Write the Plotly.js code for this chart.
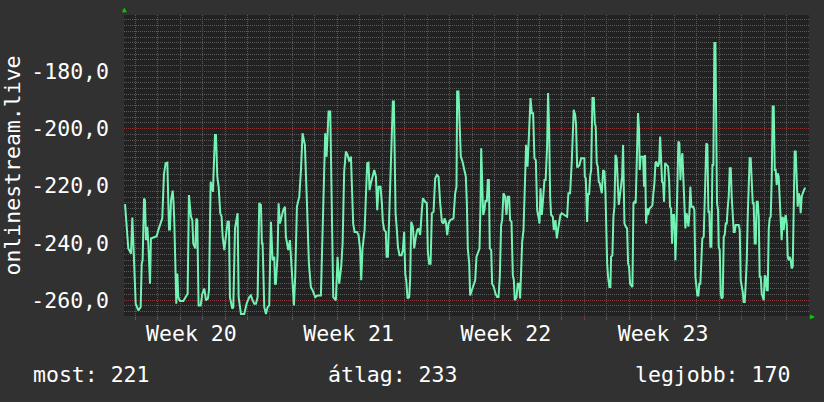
<!DOCTYPE html>
<html>
<head>
<meta charset="utf-8">
<script src="https://cdn.plot.ly/plotly-3.0.1.min.js"></script>
<style>
  html, body { margin: 0; padding: 0; background: #313131; }
  #chart { width: 824px; height: 402px; }
</style>
</head>
<body>
<div id="chart"></div>
<script>
// Series start: Monday of ISO week 20 (2013-05-13) at 12:00
const startTime = '2013-05-13T12:00:00Z';
const endTime = '2013-06-13T00:00:00Z';

// hours since startTime
const hours = [
1.1,4.6,7.5,8.9,10.0,12.5,15.3,17.8,18.9,19.9,21.4,22.4,23.5,24.9,26.0,27.1,27.8,28.8,34.9,36.7,
38.4,40.9,42.7,44.5,46.3,47.3,48.1,49.1,50.2,52.0,53.0,53.8,55.2,55.9,57.0,58.0,59.8,63.4,65.9,68.0,
69.4,71.6,73.0,74.0,76.2,77.3,78.3,79.0,79.7,81.9,83.7,85.8,87.6,89.7,90.8,92.6,95.1,95.4,97.2,98.3,
99.7,101.1,102.9,104.3,105.4,107.2,108.9,110.7,112.1,113.2,115.7,116.8,118.6,121.4,
122.5,125.0,128.5,131.0,133.9,135.6,137.4,139.2,141.0,142.8,144.5,146.3,147.4,148.1,149.9,151.7,153.5,155.2,
157.0,158.8,160.6,161.3,162.3,163.4,164.1,165.2,166.6,170.2,172.0,173.0,175.5,177.3,178.4,179.4,181.6,183.0,
184.8,187.3,189.1,190.8,193.3,195.5,197.6,199.7,201.5,204.4,206.8,210.4,212.9,215.0,216.5,217.5,218.6,220.4,
221.8,223.6,226.4,228.2,230.0,232.1,233.6,235.3,237.1,238.9,240.7,242.5,244.9,
246.4,248.9,250.6,252.4,253.5,254.9,257.1,258.5,259.9,261.3,262.4,263.8,265.6,267.4,269.2,270.6,272.0,274.1,
275.6,276.6,278.1,279.8,280.6,282.0,283.4,284.8,286.3,287.3,288.4,289.1,290.2,291.6,292.7,294.4,296.6,298.0,
299.4,300.5,301.6,303.0,304.8,305.8,306.9,308.7,310.1,311.9,313.3,314.7,316.5,318.3,319.4,321.9,323.6,324.7,
326.1,327.6,329.0,330.8,332.5,334.3,336.1,337.9,339.7,341.4,342.5,343.9,345.4,346.8,348.6,352.1,353.9,355.3,
356.0,357.4,358.5,359.9,361.7,363.5,365.3,366.4,367.4,368.9,369.9,
371.7,373.8,375.3,376.7,378.1,379.9,381.0,381.7,382.7,383.8,385.2,386.3,387.7,388.8,389.9,390.9,392.4,393.4,
395.2,397.0,398.8,400.2,401.6,403.0,404.1,405.5,407.3,408.7,410.1,411.6,412.6,414.1,415.5,416.6,417.6,419.4,
420.8,422.3,423.3,424.4,425.5,426.9,428.7,429.7,431.2,431.9,432.9,434.4,435.8,437.2,438.6,440.1,441.5,442.9,
444.0,445.1,446.5,447.5,449.3,450.6,452.1,453.2,454.3,455.4,456.4,458.2,459.3,461.1,462.5,464.3,466.4,467.8,
473.5,474.9,476.7,478.5,479.6,480.6,482.1,483.1,484.2,485.3,486.7,488.5,492.0,
492.4,493.5,494.2,494.9,495.9,497.0,498.1,499.2,499.9,500.6,502.0,503.1,504.1,505.2,506.3,507.4,508.4,509.5,
510.6,512.0,513.4,514.5,515.2,516.3,517.3,518.7,519.8,520.5,521.9,523.0,524.1,525.2,526.5,527.6,528.7,529.8,
530.8,532.3,533.3,534.0,534.8,536.2,537.6,538.7,539.7,540.8,543.3,544.4,545.4,546.8,548.3,549.3,550.4,551.1,
552.2,554.7,555.8,556.8,557.9,559.0,560.0,561.5,563.6,564.7,565.7,566.8,567.9,568.9,570.4,571.8,572.9,573.9,
575.0,576.1,577.1,578.2,581.4,582.5,583.5,584.6,585.7,586.7,587.8,588.5,589.2,590.3,591.4,592.4,593.5,594.6,
595.6,596.7,597.8,598.8,599.9,601.0,602.0,603.1,604.2,605.2,606.3,608.4,609.5,610.6,611.6,612.7,613.8,614.8,
615.9,617.0,618.0,
619.5,620.5,621.6,622.3,623.4,624.5,625.5,626.6,627.7,628.8,629.8,630.9,632.0,632.7,633.7,634.8,635.5,636.6,
637.7,638.7,639.8,640.9,641.9,643.0,644.1,645.1,646.2,647.3,648.4,649.4,650.5,651.6,652.6,653.7,656.9,658.0,
659.0,660.1,661.2,662.2,663.3,664.4,665.5,666.5,667.6,668.6,669.7,670.8,671.9,672.9,674.0,675.1,676.1,677.2,
678.3,679.3,680.4,681.5,682.5,683.6,684.7,685.8,686.8,687.9,689.0,690.0,691.1,692.2,693.2,694.3,695.4,696.4,
697.5,698.6,699.6,700.7,701.8,702.8,703.9,705.0,706.0,707.1,708.2,709.3,710.3,711.4,712.5,713.5,714.6,715.7,
716.7,717.8,718.9,719.9,721.0,722.1,723.1,724.2,725.3,726.4,727.4,728.5
];

const values = [
-226.4,-241.9,-243.7,-231.1,-240.2,-261.2,-263.5,-262.4,-247.2,-246.0,-224.4,-225.0,-239.0,-234.3,-240.2,-254.2,-254.2,-238.4,-237.6,-235.5,
-234.1,-231.4,-215.9,-212.1,-211.9,-225.0,-235.3,-235.3,-225.2,-221.7,-226.1,-233.2,-250.7,-261.2,-250.7,-258.9,-260.3,-260.3,-258.9,-257.7,
-223.2,-230.8,-232.0,-240.2,-241.9,-231.4,-232.0,-247.2,-261.8,-261.8,-257.7,-255.9,-260.0,-259.4,-256.5,-218.6,-222.1,-218.6,-202.2,-202.2,
-216.8,-220.3,-229.6,-230.8,-237.8,-242.5,-237.8,-232.6,-232.6,-258.9,-262.9,-262.4,-234.9,-229.6,
-258.9,-264.8,-264.8,-261.2,-258.9,-258.3,-260.0,-261.2,-261.2,-258.9,-226.1,-226.7,-240.2,-240.2,-262.4,-264.8,-262.4,-261.8,
-232.6,-246.0,-244.8,-254.2,-254.2,-244.8,-244.3,-226.1,-233.2,-228.5,-227.3,-237.8,-242.5,-239.0,-244.3,-251.3,-261.8,-251.3,
-227.3,-223.8,-214.5,-201.6,-205.7,-226.1,-247.2,-255.4,-256.5,-258.9,-258.3,-258.3,-226.1,-201.6,-209.8,-200.4,-194.0,-194.0,
-220.3,-258.9,-260.0,-244.8,-254.2,-248.3,-240.2,-215.0,-208.0,-209.2,-211.5,-209.8,-233.2,
-236.1,-236.1,-237.2,-242.5,-253.0,-241.9,-235.5,-223.8,-212.1,-211.9,-221.5,-219.1,-216.8,-214.5,-216.8,-228.5,-220.3,-220.3,
-226.1,-232.6,-235.5,-236.1,-244.8,-244.8,-230.8,-214.5,-203.9,-190.5,-190.5,-214.5,-229.6,-235.5,-241.3,-244.3,-244.3,-242.5,
-236.1,-250.7,-253.0,-259.4,-258.9,-252.4,-232.6,-234.3,-241.9,-237.8,-235.5,-234.9,-237.2,-228.5,-224.4,-225.6,-226.1,-243.1,
-247.2,-247.2,-229.6,-229.1,-217.4,-216.2,-216.8,-226.1,-232.6,-233.2,-231.4,-232.6,-237.2,-233.2,-232.0,-231.4,-222.6,-220.3,
-187.0,-187.0,-199.9,-209.8,-211.5,-214.5,-216.8,-226.1,-241.9,-247.2,-258.3,
-256.5,-254.8,-253.0,-244.8,-243.7,-241.9,-226.1,-206.9,-218.0,-230.2,-228.5,-225.0,-225.6,-218.0,-218.0,-241.9,-242.5,-254.2,
-255.4,-257.7,-258.9,-258.9,-251.8,-233.7,-232.0,-222.6,-223.8,-230.2,-223.8,-223.8,-232.0,-232.6,-251.3,-253.0,-260.0,-258.9,
-254.2,-254.2,-259.4,-251.8,-239.6,-235.5,-219.7,-205.7,-213.3,-205.1,-201.0,-189.3,-194.6,-194.6,-210.4,-211.0,-228.5,-230.8,
-233.2,-220.9,-230.2,-226.1,-218.0,-218.0,-206.3,-187.6,-200.4,-223.8,-230.2,-230.8,-235.5,-232.0,-238.4,-234.3,-230.2,-229.6,
-230.8,-222.6,-222.6,-211.5,-200.4,-193.4,-195.2,-198.7,-213.3,-213.3,-212.7,-210.4,-210.4,
-216.8,-217.4,-223.2,-232.6,-222.6,-223.2,-216.8,-214.5,-201.6,-189.3,-189.3,-198.1,-199.3,-212.1,-213.3,-218.6,-219.1,-221.5,
-222.6,-214.5,-215.0,-222.6,-233.2,-247.2,-251.8,-255.4,-255.4,-244.8,-244.3,-230.8,-227.3,-209.2,-210.4,-216.8,-226.7,-223.8,
-220.3,-216.8,-205.7,-219.1,-233.2,-234.3,-234.9,-247.2,-248.3,-254.2,-255.4,-226.1,-225.6,-226.1,-200.4,-194.6,-200.4,-214.5,
-209.8,-209.8,-220.3,-209.2,-233.2,-227.9,-230.2,-227.9,-227.3,-226.7,-222.6,-219.1,-212.1,-211.5,-213.3,-212.1,-202.8,-211.0,
-218.6,-219.1,-225.6,-212.1,-213.3,-218.0,-227.3,-227.9,-240.2,-230.2,-230.2,-235.5,-246.0,-235.5,-218.0,-204.5,-205.1,-218.0,
-211.0,-208.6,-218.0,-229.6,-234.9,-229.6,-230.8,-234.3,-229.6,-220.3,-227.3,-227.3,-228.5,-251.8,-254.2,-258.3,-258.3,-254.2,
-254.2,-246.0,-238.4,
-237.8,-228.5,-212.1,-205.1,-205.7,-229.1,-229.1,-241.3,-241.3,-212.7,-212.7,-170.1,-170.1,-200.4,-226.1,-228.5,-241.3,-242.5,
-257.7,-259.4,-258.9,-237.8,-237.2,-233.2,-233.2,-227.9,-223.8,-213.9,-213.9,-223.8,-230.8,-236.1,-236.1,-233.7,-233.7,-235.5,
-253.0,-254.8,-257.1,-260.6,-260.6,-254.2,-246.0,-230.8,-216.8,-210.4,-210.4,-216.8,-226.1,-226.1,-240.2,-240.2,-225.6,-225.6,
-230.8,-251.8,-251.8,-257.7,-258.9,-260.0,-251.3,-251.8,-256.5,-256.5,-234.9,-231.4,-230.8,-216.8,-192.3,-192.3,-214.5,-214.5,
-219.7,-215.6,-216.8,-224.4,-233.2,-239.0,-230.8,-235.5,-232.0,-230.2,-233.2,-244.8,-246.0,-244.8,-246.0,-248.9,-248.3,-230.8,
-208.0,-208.0,-220.3,-227.3,-222.6,-223.8,-229.6,-223.8,-222.6,-221.5,-220.9,-220.9
];

// ISO week boundaries (Mondays) and week labels centred on each week
const weekStarts = ['2013-05-20', '2013-05-27', '2013-06-03', '2013-06-10'];
const weekCenters = ['2013-05-16 12:00', '2013-05-23 12:00', '2013-05-30 12:00', '2013-06-06 12:00'];
const weekLabels = ['Week 20', 'Week 21', 'Week 22', 'Week 23'];

const yTickVals = [-260, -240, -220, -200, -180];
const yTickText = ['-260,0', '-240,0', '-220,0', '-200,0', '-180,0'];
const yTitle = 'onlinestream.live';
const statLabels = ['most', 'átlag', 'legjobb'];
const statValues = [221, 233, 170];

const t0 = Date.parse(startTime);
const xs = hours.map(h => new Date(t0 + h * 3600000).toISOString());

// fine grid positions (daily / every 2 units), skipping the major lines
const DAY = 86400000;
const xMinor = [];
for (let t = Date.parse('2013-05-14T00:00:00Z'); t < Date.parse(endTime); t += DAY) {
  const iso = new Date(t).toISOString().slice(0, 10);
  if (!weekStarts.includes(iso)) xMinor.push(iso);
}
const yMinor = [];
for (let v = -264; v <= -162; v += 2) {
  if (!yTickVals.includes(v)) yMinor.push(v);
}

const FONT = '"DejaVu Sans Mono", "Liberation Mono", monospace';
const TXT = '#ffffff';
const GRID = '#5a5a5a';
const MGRID = '#8a3636';

const trace = {
  type: 'scatter',
  mode: 'lines',
  x: xs,
  y: values,
  line: { color: '#74f2b4', width: 2, shape: 'linear' },
  hoverinfo: 'skip',
  showlegend: false
};

// empty trace that only registers the label axis (draws nothing)
const labelAxisTrace = {
  type: 'scatter', mode: 'lines', x: [], y: [], xaxis: 'x2', yaxis: 'y',
  hoverinfo: 'skip', showlegend: false
};

const layout = {
  width: 824,
  height: 402,
  paper_bgcolor: '#313131',
  plot_bgcolor: '#222222',
  margin: { l: 124, r: 15, t: 15, b: 86, pad: 0 },
  showlegend: false,
  font: { family: FONT, size: 21.5, color: TXT },
  xaxis: {
    type: 'date',
    range: [startTime, endTime],
    tickmode: 'array',
    tickvals: weekStarts,
    ticktext: weekStarts.map(() => ''),
    showticklabels: false,
    ticks: 'outside',
    ticklen: 3,
    tickcolor: MGRID,
    showgrid: true,
    gridcolor: MGRID,
    gridwidth: 1,
    griddash: '1px,1px',
    zeroline: false,
    showline: false,
    fixedrange: true,
    minor: {
      tickmode: 'array',
      tickvals: xMinor,
      showgrid: true,
      gridcolor: GRID,
      gridwidth: 1,
      griddash: '1px,1px',
      ticks: 'outside',
      ticklen: 3,
      tickcolor: GRID
    }
  },
  xaxis2: {
    type: 'date',
    overlaying: 'x',
    anchor: 'y',
    side: 'bottom',
    range: [startTime, endTime],
    tickmode: 'array',
    tickvals: weekCenters,
    ticktext: weekLabels,
    tickfont: { family: FONT, size: 21.5, color: TXT },
    ticks: '',
    ticklabelstandoff: 2,
    showgrid: false,
    zeroline: false,
    showline: false,
    fixedrange: true
  },
  yaxis: {
    range: [-265.5, -160.3],
    tickmode: 'array',
    tickvals: yTickVals,
    ticktext: yTickText,
    tickfont: { family: FONT, size: 21.5, color: TXT },
    ticks: '',
    ticklabelstandoff: 14,
    showgrid: true,
    gridcolor: MGRID,
    gridwidth: 1,
    griddash: '1px,1px',
    zeroline: false,
    showline: false,
    fixedrange: true,
    title: { text: yTitle, font: { family: FONT, size: 21.5, color: TXT }, standoff: 6 },
    minor: {
      tickmode: 'array',
      tickvals: yMinor,
      showgrid: true,
      gridcolor: GRID,
      gridwidth: 1,
      griddash: '1px,1px',
      ticks: ''
    }
  },
  annotations: [
    { xref: 'paper', yref: 'paper', x: -0.1355, y: -0.196, xanchor: 'left', yanchor: 'middle',
      text: statLabels[0] + ': ' + statValues[0], showarrow: false, font: { family: FONT, size: 21.5, color: TXT } },
    { xref: 'paper', yref: 'paper', x: 0.3927, y: -0.196, xanchor: 'center', yanchor: 'middle',
      text: statLabels[1] + ': ' + statValues[1], showarrow: false, font: { family: FONT, size: 21.5, color: TXT } },
    { xref: 'paper', yref: 'paper', x: 0.9755, y: -0.196, xanchor: 'right', yanchor: 'middle',
      text: statLabels[2] + ': ' + statValues[2], showarrow: false, font: { family: FONT, size: 21.5, color: TXT } },
    { xref: 'paper', yref: 'paper', x: 0, y: 1.017, xanchor: 'center', yanchor: 'middle',
      text: '▲', showarrow: false, font: { family: FONT, size: 8, color: '#00cc00' } },
    { xref: 'paper', yref: 'paper', x: 1.005, y: 0, xanchor: 'center', yanchor: 'middle',
      text: '▶', showarrow: false, font: { family: FONT, size: 8, color: '#00cc00' } }
  ]
};

Plotly.newPlot('chart', [trace, labelAxisTrace], layout, { staticPlot: true, displayModeBar: false });
</script>
</body>
</html>
